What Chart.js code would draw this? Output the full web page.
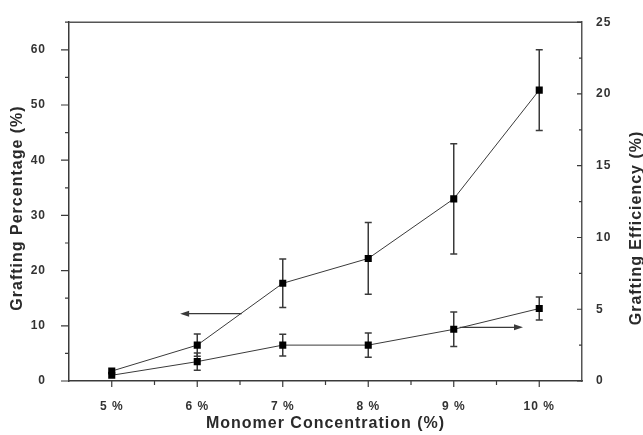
<!DOCTYPE html>
<html><head><meta charset="utf-8">
<script src="https://cdn.jsdelivr.net/npm/chart.js@4/dist/chart.umd.min.js"></script>
<style>html,body{margin:0;padding:0;background:#fff;} #wrap{width:643px;height:435px;position:relative;}</style>
</head><body><div id="wrap"><canvas id="c"></canvas></div>
<script>
// ---- data ----
const categories = ['5 %', '6 %', '7 %', '8 %', '9 %', '10 %'];
const concentration = [5, 6, 7, 8, 9, 10];
const graftingPercentage = [1.8, 6.5, 17.7, 22.2, 33.0, 52.7];
const graftingPercentageErr = [0, 2.0, 4.4, 6.5, 10.0, 7.3];
const graftingEfficiency = [0.4, 1.35, 2.5, 2.5, 3.6, 5.05];
const graftingEfficiencyErr = [0, 0.6, 0.75, 0.85, 1.2, 0.8];
const leftTicks = [0, 10, 20, 30, 40, 50, 60];
const rightTicks = [0, 5, 10, 15, 20, 25];
const xTitle = 'Monomer Concentration (%)';
const leftTitle = 'Grafting Percentage (%)';
const rightTitle = 'Grafting Efficiency (%)';
// arrows pointing to the axis each curve belongs to (data units)
const arrowLeft = { axis: 'yL', y: 12.2, from: 6.52, to: 5.8 };
const arrowRight = { axis: 'yR', y: 3.74, from: 9.07, to: 9.81 };

const INK = '#3a3a3a';
const FONT = '"Liberation Sans", Arial, sans-serif';

const spacing = {
  id: 'spacing',
  beforeDraw(chart) { chart.ctx.letterSpacing = '1px'; }
};

const errorBars = {
  id: 'errorBars',
  beforeDatasetsDraw(chart) {
    const ctx = chart.ctx, xs = chart.scales.x;
    const sets = [
      { s: chart.scales.yL, v: graftingPercentage, e: graftingPercentageErr },
      { s: chart.scales.yR, v: graftingEfficiency, e: graftingEfficiencyErr }
    ];
    ctx.save();
    ctx.strokeStyle = INK; ctx.lineWidth = 1.5;
    sets.forEach(({ s, v, e }) => {
      v.forEach((val, i) => {
        if (!e[i]) return;
        const x = xs.getPixelForValue(concentration[i]);
        const yt = s.getPixelForValue(val + e[i]);
        const yb = s.getPixelForValue(val - e[i]);
        ctx.beginPath();
        ctx.moveTo(x, yt); ctx.lineTo(x, yb);
        ctx.moveTo(x - 3.5, yt); ctx.lineTo(x + 3.5, yt);
        ctx.moveTo(x - 3.5, yb); ctx.lineTo(x + 3.5, yb);
        ctx.stroke();
      });
    });
    ctx.restore();
  }
};

const decor = {
  id: 'decor',
  afterDraw(chart) {
    const ctx = chart.ctx, a = chart.chartArea;
    const xs = chart.scales.x, yl = chart.scales.yL, yr = chart.scales.yR;
    ctx.save();
    ctx.strokeStyle = '#555'; ctx.lineWidth = 1.5;
    // top frame line
    ctx.beginPath(); ctx.moveTo(a.left, a.top); ctx.lineTo(a.right, a.top); ctx.stroke();
    ctx.lineWidth = 1.2; ctx.strokeStyle = INK;
    ctx.beginPath();
    // left axis ticks (outward), major + minor
    for (let v = yl.min; v <= yl.max; v += 5) {
      const y = yl.getPixelForValue(v), len = v % 10 === 0 ? 8 : 4;
      ctx.moveTo(a.left - len, y); ctx.lineTo(a.left, y);
    }
    // right axis ticks (inward)
    for (let v = yr.min; v <= yr.max; v += 2.5) {
      const y = yr.getPixelForValue(v), len = v % 5 === 0 ? 5 : 3;
      ctx.moveTo(a.right - len, y); ctx.lineTo(a.right, y);
    }
    // bottom axis ticks (outward)
    for (let v = xs.min + 0.5; v < xs.max; v += 0.5) {
      const x = xs.getPixelForValue(v), len = Number.isInteger(v) ? 6 : 4;
      ctx.moveTo(x, a.bottom); ctx.lineTo(x, a.bottom + len);
    }
    ctx.stroke();
    // arrows
    ctx.lineWidth = 1.2;
    [arrowLeft, arrowRight].forEach(ar => {
      const s = chart.scales[ar.axis];
      const y = s.getPixelForValue(ar.y);
      const x0 = xs.getPixelForValue(ar.from), x1 = xs.getPixelForValue(ar.to);
      const dir = Math.sign(x1 - x0);
      ctx.beginPath(); ctx.moveTo(x0, y); ctx.lineTo(x1 - dir * 6, y); ctx.stroke();
      ctx.beginPath();
      ctx.moveTo(x1, y); ctx.lineTo(x1 - dir * 9, y - 3); ctx.lineTo(x1 - dir * 9, y + 3); ctx.closePath();
      ctx.fillStyle = INK; ctx.fill();
    });
    // titles
    ctx.fillStyle = '#2a2a2a';
    ctx.font = 'bold 16px ' + FONT;
    ctx.letterSpacing = '1px';
    ctx.textAlign = 'center'; ctx.textBaseline = 'middle';
    ctx.fillText(xTitle, (a.left + a.right) / 2, 424);
    ctx.save(); ctx.translate(18, 208); ctx.rotate(-Math.PI / 2);
    ctx.fillText(leftTitle, 0, 0); ctx.restore();
    ctx.save(); ctx.translate(637, 228); ctx.rotate(-Math.PI / 2);
    ctx.fillText(rightTitle, 0, 0); ctx.restore();
    ctx.restore();
  }
};

const tickFont = { family: FONT, size: 12, weight: 'bold' };

new Chart(document.getElementById('c'), {
  type: 'line',
  data: {
    datasets: [
      {
        label: leftTitle, yAxisID: 'yL',
        data: concentration.map((x, i) => ({ x, y: graftingPercentage[i] })),
        borderColor: INK, borderWidth: 1, tension: 0,
        pointStyle: 'rect', pointRadius: 5, pointHoverRadius: 5,
        pointBackgroundColor: '#000', pointBorderColor: '#000', pointBorderWidth: 0
      },
      {
        label: rightTitle, yAxisID: 'yR',
        data: concentration.map((x, i) => ({ x, y: graftingEfficiency[i] })),
        borderColor: INK, borderWidth: 1, tension: 0,
        pointStyle: 'rect', pointRadius: 5, pointHoverRadius: 5,
        pointBackgroundColor: '#000', pointBorderColor: '#000', pointBorderWidth: 0
      }
    ]
  },
  options: {
    responsive: true, maintainAspectRatio: false, animation: false,
    layout: { padding: { top: 22, left: 0, right: 0, bottom: 0 } },
    plugins: { legend: { display: false }, tooltip: { enabled: false } },
    scales: {
      x: {
        type: 'linear', min: 4.5, max: 10.5,
        afterBuildTicks: s => { s.ticks = concentration.map(v => ({ value: v })); },
        afterFit: s => { s.height = 54; },
        grid: { display: false },
        border: { display: true, color: INK, width: 1.5 },
        ticks: { font: tickFont, color: '#333', padding: 10, maxRotation: 0,
          callback: v => { const i = concentration.indexOf(v); return i >= 0 ? categories[i] : ''; } }
      },
      yL: {
        type: 'linear', position: 'left', min: 0, max: 65,
        afterBuildTicks: s => { s.ticks = leftTicks.map(v => ({ value: v })); },
        afterFit: s => { s.width = 69; },
        grid: { display: false },
        border: { display: true, color: INK, width: 1.5 },
        ticks: { font: tickFont, color: '#333', padding: 15 }
      },
      yR: {
        type: 'linear', position: 'right', min: 0, max: 25,
        afterBuildTicks: s => { s.ticks = rightTicks.map(v => ({ value: v })); },
        afterFit: s => { s.width = 61; },
        grid: { display: false },
        border: { display: true, color: '#555', width: 1.5 },
        ticks: { font: tickFont, color: '#333', padding: 6 }
      }
    }
  },
  plugins: [spacing, errorBars, decor]
});
</script>
</body></html>
